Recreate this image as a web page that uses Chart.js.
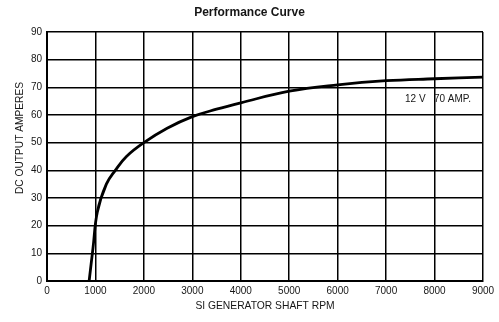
<!DOCTYPE html>
<html>
<head>
<meta charset="utf-8">
<script src="https://cdn.jsdelivr.net/npm/chart.js@4/dist/chart.umd.min.js"></script>
<style>
  html, body { margin: 0; padding: 0; background: #fff; }
  canvas { display: block; }
</style>
</head>
<body>
<canvas id="curve" width="499" height="322"></canvas>
<script>
'use strict';

// generator output vs shaft speed
const rpm  = [870, 950, 1040, 1225, 1410, 1640, 2000, 2480, 3000, 3500, 4000, 5000, 6000, 7000, 8000, 9000];
const amps = [0,   12,  25,   35,   40,   45,   50,   55.2, 59.4, 62.1, 64.4, 68.6, 70.9, 72.4, 73.1, 73.7];

const xTicks = [0, 1000, 2000, 3000, 4000, 5000, 6000, 7000, 8000, 9000];
const yTicks = [0, 10, 20, 30, 40, 50, 60, 70, 80, 90];

const ratingText = '12 V   70 AMP.';
const yTitle = 'DC OUTPUT AMPERES';

const fontFamily = '"Liberation Sans", Arial, Helvetica, sans-serif';
const ink = '#161616';

const points = rpm.map((r, i) => ({x: r, y: amps[i]}));

// rating note + rotated axis caption
const extraText = {
  id: 'extraText',
  afterDraw(chart) {
    const {ctx, scales: {x, y}} = chart;
    ctx.save();
    ctx.fillStyle = ink;
    ctx.font = '10px ' + fontFamily;
    ctx.textBaseline = 'middle';
    ctx.textAlign = 'left';
    ctx.fillText(ratingText, x.getPixelForValue(7390), y.getPixelForValue(65.8));

    ctx.translate(20, 138);
    ctx.rotate(-Math.PI / 2);
    ctx.textAlign = 'center';
    ctx.font = '10.2px ' + fontFamily;
    ctx.fillText(yTitle, 0, 0);
    ctx.restore();
  }
};

new Chart(document.getElementById('curve'), {
  type: 'line',
  data: {
    datasets: [{
      data: points,
      borderColor: '#000',
      borderWidth: 2.8,
      pointRadius: 0,
      tension: 0.4,
      fill: false
    }]
  },
  options: {
    responsive: false,
    animation: false,
    devicePixelRatio: 1,
    plugins: {
      legend: { display: false },
      tooltip: { enabled: false },
      title: {
        display: true,
        text: 'Performance Curve',
        color: ink,
        font: { family: fontFamily, size: 12, weight: 'bold' },
        padding: { top: 5, bottom: 12.6 }
      }
    },
    scales: {
      x: {
        type: 'linear',
        min: 0,
        max: 9000,
        afterBuildTicks: s => { s.ticks = xTicks.map(v => ({value: v})); },
        afterFit: s => { s.height = 41; s.paddingRight = 16; },
        ticks: {
          color: ink,
          font: { family: fontFamily, size: 10 },
          padding: 4,
          maxRotation: 0,
          autoSkip: false,
          callback: v => String(v)
        },
        grid: { color: '#000', lineWidth: 1.5, drawTicks: false },
        border: { color: '#000', width: 2 },
        title: {
          display: true,
          text: 'SI GENERATOR SHAFT RPM',
          color: ink,
          font: { family: fontFamily, size: 10.3 },
          padding: { top: 0, bottom: 10 }
        }
      },
      y: {
        min: 0,
        max: 90,
        afterBuildTicks: s => { s.ticks = yTicks.map(v => ({value: v})); },
        afterFit: s => { s.width = 47; },
        ticks: {
          color: ink,
          font: { family: fontFamily, size: 10 },
          padding: 5,
          autoSkip: false,
          callback: v => String(v)
        },
        grid: { color: '#000', lineWidth: 1.5, drawTicks: false },
        border: { color: '#000', width: 2 }
      }
    }
  },
  plugins: [extraText]
});
</script>
</body>
</html>
